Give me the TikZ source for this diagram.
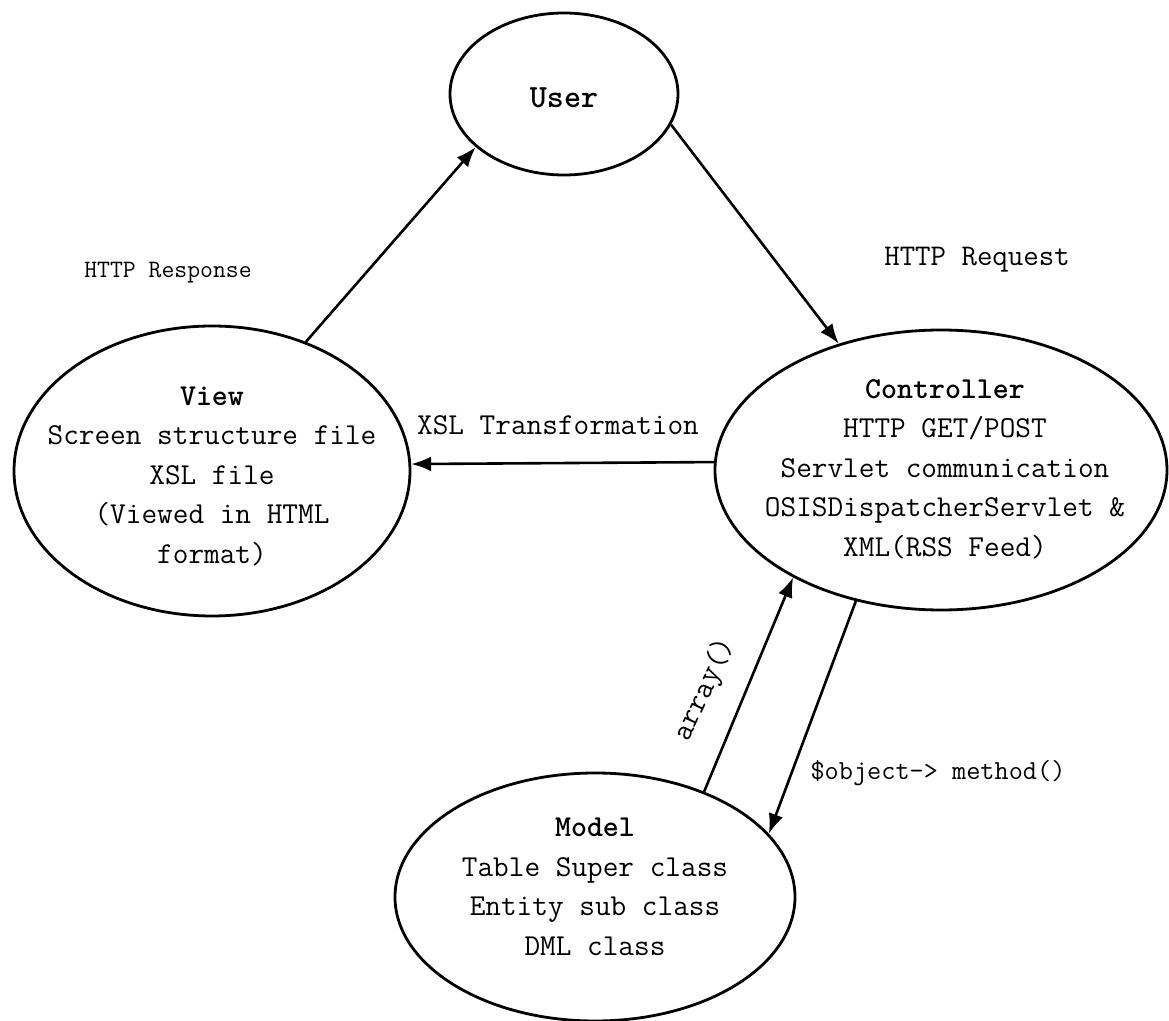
\documentclass[tikz,border=0pt]{standalone}
\usepackage{fontspec}
\usetikzlibrary{shapes.geometric,arrows.meta}
\begin{document}
\begin{tikzpicture}[x=0.5pt,y=-0.5pt,
  ell/.style={ellipse,draw,line width=1.4pt,inner sep=0pt},
  txt/.style={align=center,font=\ttfamily\fontsize{15.2}{19.75}\selectfont,inner sep=0pt},
  lbl/.style={font=\ttfamily\fontsize{15.2}{17}\selectfont,inner sep=0pt},
  conn/.style={line width=1.3pt,-{Latex[length=10pt,width=7.5pt]}}]
\useasboundingbox (0,0) rectangle (1169,1021);

% ellipses
\node[ell,minimum width=114pt,minimum height=81pt] (user) at (564,94) {};
\node[ell,minimum width=198pt,minimum height=145pt] (view) at (212,471) {};
\node[ell,minimum width=226pt,minimum height=140pt] (ctrl) at (941,470) {};
\node[ell,minimum width=200pt,minimum height=124pt] (model) at (595,897) {};

% texts inside
\node[txt,font=\ttfamily\fontsize{16.2}{18}\selectfont\bfseries] (usert) at (564,98) {User};
\node[txt] (viewt) at (212,476) {\textbf{View}\\Screen structure file\\XSL file\\(Viewed in HTML\\format)};
\node[txt] (ctrlt) at (945,469) {\textbf{Controller}\\HTTP GET/POST\\Servlet communication\\OSISDispatcherServlet \&\\XML(RSS Feed)};
\node[txt] (modelt) at (595,887) {\textbf{Model}\\Table Super class\\Entity sub class\\DML class};

% connectors
\draw[conn] (view.54) -- (user.211.6);
\draw[conn] (user.-16) -- (ctrl.129.3);
\draw[conn] (ctrl.178) -- (view.2.6);
\draw[conn] (model.44.5) -- (ctrl.216);
\draw[conn] (ctrl.237.8) -- (model.20.5);

% labels
\node[lbl,font=\ttfamily\fontsize{12.5}{14}\selectfont] (lresp) at (168,273) {HTTP Response};
\node[lbl,font=\ttfamily\fontsize{15}{17}\selectfont] (lreq) at (977,260) {HTTP Request};
\node[lbl] (lxsl) at (558,425) {XSL Transformation};
\node[lbl,font=\ttfamily\fontsize{13.75}{16}\selectfont] (lobj) at (938,773) {\$object-> method()};
\node[lbl,rotate=65] (larr) at (705,690) {array()};
\end{tikzpicture}
\end{document}
